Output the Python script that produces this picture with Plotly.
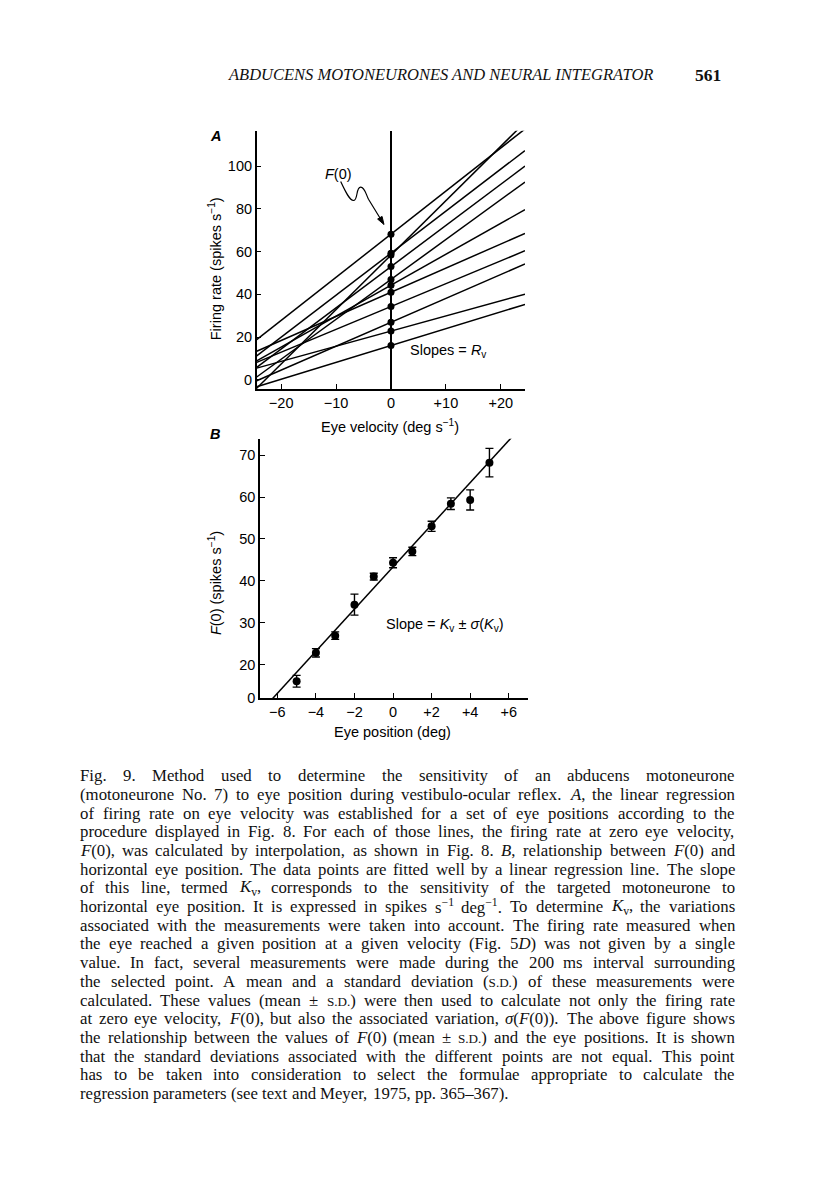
import re
import numpy as np
import plotly.graph_objects as go

W, H = 816, 1200
OFF = 8                      # the page body keeps an 8px margin round the figure
FW, FH = W - OFF, H - OFF


def px(x):
    return (x - OFF) / FW


def py(y):
    return 1 - (y - OFF) / FH


# ---- data ----
eye_pos = [-5, -4, -3, -2, -1, 0, 1, 2, 3, 4, 5]              # deg
f0 = [16.0, 22.8, 26.9, 34.3, 41.0, 44.3, 47.0, 53.0, 58.4, 59.3, 68.2]   # spikes/s at zero velocity
f0_sd = [1.4, 1.0, 0.9, 2.5, 0.8, 1.2, 1.0, 1.2, 1.4, 2.4, 3.4]
rv = [0.79, 0.71, 1.12, 1.07, 1.13, 1.45, 1.87, 1.93, 2.55, 1.97, 2.02]   # slopes of panel A lines
kv = 5.03
kv_intercept = 43.3

vel_ticks = [-20, -10, 0, 10, 20]
vel_ticktext = ['\u221220', '\u221210', '0', '+10', '+20']
rate_ticks = [0, 20, 40, 60, 80, 100]
pos_ticks = [-6, -4, -2, 0, 2, 4, 6]
pos_ticktext = ['\u22126', '\u22124', '\u22122', '0', '+2', '+4', '+6']
f0_ticks = [12.0, 20, 30, 40, 50, 60, 70]
f0_ticktext = ['0', '20', '30', '40', '50', '60', '70']

vel_range = [-24.45, 24.4]
rate_range = [-4.4, 116.6]
pos_range = [-6.9, 7.0]
f0_range = [12.0, 73.9]

caption = [
    "Fig. 9. Method used to determine the sensitivity of an abducens motoneurone",
    "(motoneurone No. 7) to eye position during vestibulo-ocular reflex. <i>A</i>, the linear regression",
    "of firing rate on eye velocity was established for a set of eye positions according to the",
    "procedure displayed in Fig. 8. For each of those lines, the firing rate at zero eye velocity,",
    "<i>F</i>(0), was calculated by interpolation, as shown in Fig. 8. <i>B</i>, relationship between <i>F</i>(0) and",
    "horizontal eye position. The data points are fitted well by a linear regression line. The slope",
    "of this line, termed <i>K</i><sub>v</sub>, corresponds to the sensitivity of the targeted motoneurone to",
    "horizontal eye position. It is expressed in spikes s<sup>\u22121</sup> deg<sup>\u22121</sup>. To determine <i>K</i><sub>v</sub>, the variations",
    "associated with the measurements were taken into account. The firing rate measured when",
    "the eye reached a given position at a given velocity (Fig. 5<i>D</i>) was not given by a single",
    "value. In fact, several measurements were made during the 200 ms interval surrounding",
    "the selected point. A mean and a standard deviation (<sc>S.D.</sc>) of these measurements were",
    "calculated. These values (mean \u00b1 <sc>S.D.</sc>) were then used to calculate not only the firing rate",
    "at zero eye velocity, <i>F</i>(0), but also the associated variation, <i>\u03c3</i>(<i>F</i>(0)). The above figure shows",
    "the relationship between the values of <i>F</i>(0) (mean \u00b1 <sc>S.D.</sc>) and the eye positions. It is shown",
    "that the standard deviations associated with the different points are not equal. This point",
    "has to be taken into consideration to select the formulae appropriate to calculate the",
    "regression parameters (see text and Meyer, 1975, pp. 365\u2013367).",
]

# Times / Liberation Serif advance widths (1/1000 em), used to justify the caption
ROMAN = dict(zip('abcdefghijklmnopqrstuvwxyz',
                 [444, 500, 444, 500, 444, 333, 500, 500, 278, 278, 500, 278, 778,
                  500, 500, 500, 500, 333, 389, 278, 500, 500, 722, 500, 500, 444]))
ROMAN.update(zip('ABCDEFGHIJKLMNOPQRSTUVWXYZ',
                 [722, 667, 667, 722, 611, 556, 722, 722, 333, 389, 722, 611, 889,
                  722, 722, 556, 722, 667, 556, 611, 722, 722, 944, 722, 722, 611]))
ROMAN.update({c: 500 for c in '0123456789'})
ROMAN.update({' ': 250, '.': 250, ',': 250, '(': 333, ')': 333, '-': 333,
              ':': 278, ';': 278, '\u2013': 500, '\u00b1': 564, '\u2212': 564, '\u03c3': 550})
ITALIC = {'A': 611, 'B': 611, 'D': 722, 'F': 611, 'K': 667, 'R': 611}
SC_SCALE = 0.78


def text_width(markup, fs):
    w = 0.0
    italic = False
    scale = 1.0
    for tok in re.split(r'(<[^>]+>)', markup):
        if tok.startswith('<'):
            closing = tok.startswith('</')
            tag = tok.strip('</>').split()[0]
            if tag == 'i':
                italic = not closing
            elif tag in ('sub', 'sup'):
                scale = 1.0 if closing else 0.7
            elif tag == 'sc':
                scale = 1.0 if closing else SC_SCALE
            continue
        for ch in tok:
            u = ITALIC.get(ch) if italic else None
            w += (u or ROMAN.get(ch, 500)) * scale
    return w * fs / 1000


def to_html(markup, fs):
    return (markup.replace('<sc>', f'<span style="font-size:{fs * SC_SCALE:.1f}px">')
                  .replace('</sc>', '</span>'))


traces = []
for a, s in zip(f0, rv):
    traces.append(go.Scatter(
        x=vel_range, y=[a + s * v for v in vel_range],
        mode='lines', line=dict(color='black', width=1.5),
        xaxis='x', yaxis='y', hoverinfo='skip',
    ))
traces.append(go.Scatter(
    x=np.zeros(len(f0)), y=f0, mode='markers',
    marker=dict(color='black', size=7),
    xaxis='x', yaxis='y',
))
traces.append(go.Scatter(
    x=pos_range, y=[kv_intercept + kv * p for p in pos_range],
    mode='lines', line=dict(color='black', width=1.5),
    xaxis='x2', yaxis='y2', hoverinfo='skip',
))
traces.append(go.Scatter(
    x=eye_pos, y=f0, mode='markers',
    marker=dict(color='black', size=8),
    error_y=dict(type='data', array=f0_sd, color='black', thickness=1.4, width=4),
    xaxis='x2', yaxis='y2',
))

axis_style = dict(
    showgrid=False, showline=True, linecolor='black', linewidth=1.5,
    ticks='inside', ticklen=5, tickwidth=1.3, tickcolor='black',
    tickfont=dict(family='Liberation Sans', size=14.5, color='black'),
    mirror=False,
)

sans = dict(family='Liberation Sans', size=14.5, color='black')
serif_head = dict(family='Liberation Serif', size=16.5, color='#111')
annotations = [
    dict(x=px(215), y=py(137), text='<b><i>A</i></b>', font=sans),
    dict(x=px(215), y=py(437), text='<b><i>B</i></b>', font=sans),
    dict(x=px(215), y=py(271), text='Firing rate (spikes s<sup>\u22121</sup>)', textangle=-90, font=sans),
    dict(x=px(390), y=py(429), text='Eye velocity (deg s<sup>\u22121</sup>)', font=sans),
    dict(x=px(215), y=py(587), text='<i>F</i>(0) (spikes s<sup>\u22121</sup>)', textangle=-90, font=sans),
    dict(x=px(392), y=py(737), text='Eye position (deg)', font=sans),
    dict(x=px(338), y=py(175), text='<i>F</i>(0)', font=sans),
    dict(x=px(448), y=py(353), text='Slopes = <i>R</i><sub>v</sub>', font=sans),
    dict(x=px(445), y=py(629), text='Slope = <i>K</i><sub>v</sub> \u00b1 <i>\u03c3</i>(<i>K</i><sub>v</sub>)', font=sans),
    dict(x=px(653), y=py(75), xanchor='right',
         text='<i>ABDUCENS MOTONEURONES AND NEURAL INTEGRATOR</i>', font=serif_head),
    dict(x=px(721), y=py(75), xanchor='right', text='<b>561</b>',
         font=dict(serif_head, size=17.5)),
]

# justified caption, one annotation per word
cap_left, cap_right = 80, 735
cap_top, cap_step = 781, 18.81
natural = max(text_width(l, 1000) for l in caption)
cap_fs = min(16.8, (cap_right - cap_left - 6) * 1000 / natural)
space = text_width(' ', cap_fs)
for i, line in enumerate(caption):
    words = line.split(' ')
    widths = [text_width(w, cap_fs) for w in words]
    if i < len(caption) - 1 and len(words) > 1:
        gap = (cap_right - cap_left - sum(widths)) / (len(words) - 1)
    else:
        gap = space
    x = cap_left
    for w, wd in zip(words, widths):
        annotations.append(dict(
            x=px(x), y=py(cap_top + i * cap_step), xanchor='left',
            text=to_html(w, cap_fs),
            font=dict(family='Liberation Serif', size=cap_fs, color='#111'),
        ))
        x += wd + gap

for a in annotations:
    a.update(xref='paper', yref='paper', showarrow=False,
             borderpad=0, borderwidth=0)
    a.setdefault('yanchor', 'middle')
    a.setdefault('xanchor', 'center')

# squiggly arrow pointing to F(0)
squiggle = [(340.7, 182.7), (345, 192), (350, 203), (354, 201.7),
            (358, 200.5), (356, 188), (360.7, 188.3),
            (365, 188.6), (366, 196), (368.5, 200.5)]
tip = np.array([384.0, 226.0])
d = (tip - np.array(squiggle[-1])) / np.linalg.norm(tip - np.array(squiggle[-1]))
path = f'M {px(squiggle[0][0])},{py(squiggle[0][1])}'
for k in range(1, len(squiggle), 3):
    pts = squiggle[k:k + 3]
    path += ' C ' + ' '.join(f'{px(x)},{py(y)}' for x, y in pts)
end = tip - 3.0 * d
path += f' L {px(end[0])},{py(end[1])}'
perp = np.array([-d[1], d[0]])
base = tip - 8 * d
b1, b2 = base + 2.6 * perp, base - 2.6 * perp
head = (f'M {px(tip[0])},{py(tip[1])} L {px(b1[0])},{py(b1[1])} '
        f'L {px(b2[0])},{py(b2[1])} Z')

shapes = [
    dict(type='path', path=path, xref='paper', yref='paper',
         line=dict(color='black', width=1.2)),
    dict(type='path', path=head, xref='paper', yref='paper',
         line=dict(color='black', width=1), fillcolor='black'),
]

fig = go.Figure(
    data=traces,
    layout=go.Layout(
        width=FW,
        height=FH,
        margin=dict(l=0, r=0, t=0, b=0),
        paper_bgcolor='white',
        plot_bgcolor='white',
        showlegend=False,
        font=dict(family='Liberation Sans', color='black'),
        xaxis=dict(
            axis_style,
            domain=[px(256.7), px(525)],
            range=vel_range,
            tickvals=vel_ticks,
            ticktext=vel_ticktext,
            zeroline=True, zerolinecolor='black', zerolinewidth=1.5,
            anchor='y',
        ),
        yaxis=dict(
            axis_style,
            domain=[py(391.7), py(131.7)],
            range=rate_range,
            tickvals=rate_ticks,
            zeroline=False,
            anchor='x',
        ),
        xaxis2=dict(
            axis_style,
            domain=[px(260), px(528)],
            range=pos_range,
            tickvals=pos_ticks,
            ticktext=pos_ticktext,
            zeroline=False,
            anchor='y2',
        ),
        yaxis2=dict(
            axis_style,
            domain=[py(702.7), py(441.7)],
            range=f0_range,
            tickvals=f0_ticks,
            ticktext=f0_ticktext,
            zeroline=False,
            anchor='x2',
        ),
        annotations=annotations,
        shapes=shapes,
    ),
)

fig.write_html("out.html")
